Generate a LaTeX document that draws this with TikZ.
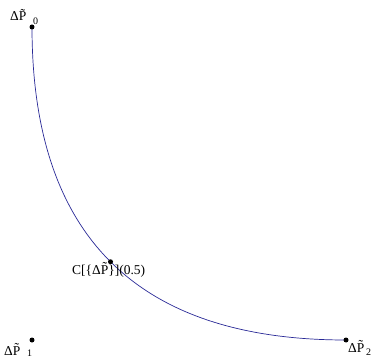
\documentclass[tikz,border=0pt]{standalone}
\usepackage{fontspec}
\setmainfont{Liberation Serif}
\begin{document}
\begin{tikzpicture}[x=1pt,y=-1pt,
  pt/.style={circle,fill=black,inner sep=0pt,minimum size=5pt},
  lbl/.style={inner sep=0pt,font=\fontsize{13.5}{13.5}\selectfont,anchor=base west},
  sub/.style={inner sep=0pt,font=\fontsize{10}{10}\selectfont,anchor=base west},
  curve/.style={draw={rgb,255:red,40;green,40;blue,150},line width=0.7pt}]
\useasboundingbox (0,0) rectangle (372,358);
\coordinate (P0) at (32,27);
\coordinate (P1) at (32,340);
\coordinate (P2) at (346,340);
\coordinate (C1) at (32,235.67);
\coordinate (C2) at (136.67,340);
\coordinate (M) at (110.5,261.75);
\draw[curve] (P0) .. controls (C1) and (C2) .. (P2);
\node[pt] (d0) at (P0) {};
\node[pt] (d1) at (P1) {};
\node[pt] (d2) at (P2) {};
\node[pt] (dm) at (M) {};
\node[lbl] (l0) at (10,21) {ΔP̃};
\node[sub] (s0) at (33,25) {0};
\node[lbl] (l1) at (4,355) {ΔP̃};
\node[sub] (s1) at (27,356) {1};
\node[lbl] (l2) at (348,352) {ΔP̃};
\node[sub] (s2) at (366,355) {2};
\node[lbl] (lm) at (72,274) {C[\{ΔP̃\}](0.5)};
\end{tikzpicture}
\end{document}
